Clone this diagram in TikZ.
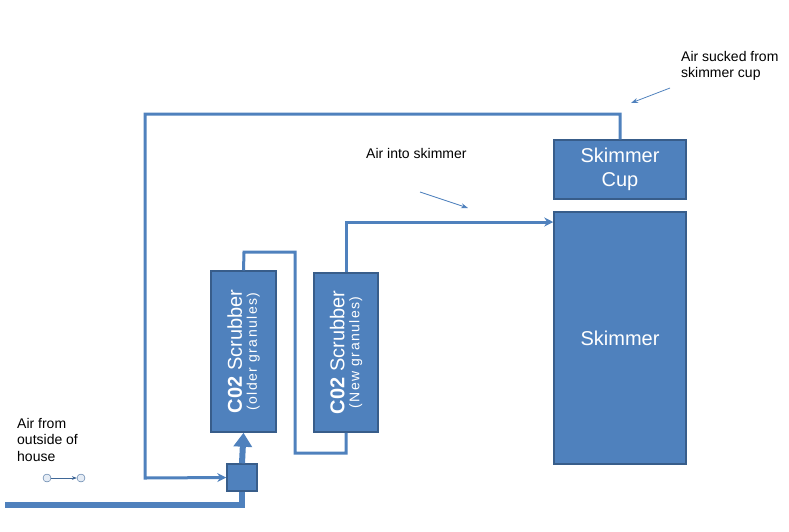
\documentclass[tikz,border=0pt]{standalone}
\usepackage{fontspec}
\setmainfont{Liberation Sans}
\usetikzlibrary{arrows.meta}
\definecolor{bf}{HTML}{4F81BD}
\definecolor{bd}{HTML}{385D8A}
\newcommand{\spaced}[1]{{\addfontfeatures{LetterSpace=10}#1}}
\begin{document}
\begin{tikzpicture}[x=1pt,y=-1pt,
 box/.style={draw=bd,line width=1.5pt,fill=bf,text=white,inner sep=0pt},
 pipe/.style={draw=bf,line width=3pt},
 lbl/.style={align=left,anchor=north west,font=\fontsize{14}{16.5}\selectfont,inner sep=0pt},
 thin/.style={draw=bf,line width=0.8pt,-{Stealth[length=7pt,width=5pt]}}]
\useasboundingbox (0,0) rectangle (789,531);
\node[box,minimum width=132pt,minimum height=59pt,align=center,font=\fontsize{20}{24}\selectfont] (cup) at (620,169.5) {Skimmer\\Cup};
\node[box,minimum width=132pt,minimum height=252pt,font=\fontsize{20}{24}\selectfont] (sk) at (620,338) {Skimmer};
\node[box,minimum width=65pt,minimum height=161pt] (s1) at (243.5,351.5) {};
\node[rotate=90,text=white,align=center] at (s1.center) {{\fontsize{20}{22}\selectfont\textbf{C02} Scrubber}\\[3pt]{\fontsize{14}{16}\selectfont\spaced{(older granules)}}};
\node[box,minimum width=64pt,minimum height=159pt] (s2) at (346,352.5) {};
\node[rotate=90,text=white,align=center] at (s2.center) {{\fontsize{20}{22}\selectfont\textbf{C02} Scrubber}\\[3pt]{\fontsize{14}{16}\selectfont\spaced{(New granules)}}};
\node[box,minimum width=30pt,minimum height=27pt] (v) at (242,477.5) {};
\coordinate (in) at (5,505);
\coordinate (c1) at (145,478);
\draw[draw=bf,line width=6pt] (in) -- (242,505) -- (v.south);
\draw[draw=bf,line width=6pt,-{Triangle[length=14pt,width=18pt]}] (v.north) -- (s1.south);
\draw[pipe,-{Stealth[length=9pt,width=9pt]}] (cup.north) -- (620,114) -- (145,114) -- (c1) -- (v.west);
\draw[pipe] (s1.north) -- (244,252) -- (295,252) -- (295,453) -- (346,453) -- (s2.south);
\draw[pipe,-{Stealth[length=9pt,width=9pt]}] (s2.north) -- (346,222) -- (sk.west |- 0,222);
\draw[thin] (420,192) -- (468,208);
\draw[thin] (670,88) -- (631,103);
\node[lbl] (t1) at (681,51) {Air sucked from\\skimmer cup};
\node[lbl] (t2) at (366,148) {Air into skimmer};
\node[lbl] (t3) at (17,418) {Air from\\outside of\\house};
\node[circle,draw=bf!80!black,fill=bf!15,inner sep=0pt,minimum size=8pt] (p1) at (47,478) {};
\node[circle,draw=bf!80!black,fill=bf!15,inner sep=0pt,minimum size=8pt] (p2) at (81,478) {};
\draw[draw=bf!80!black,line width=0.6pt,-{Stealth[length=5pt]}] (p1) -- (p2);
\end{tikzpicture}
\end{document}
